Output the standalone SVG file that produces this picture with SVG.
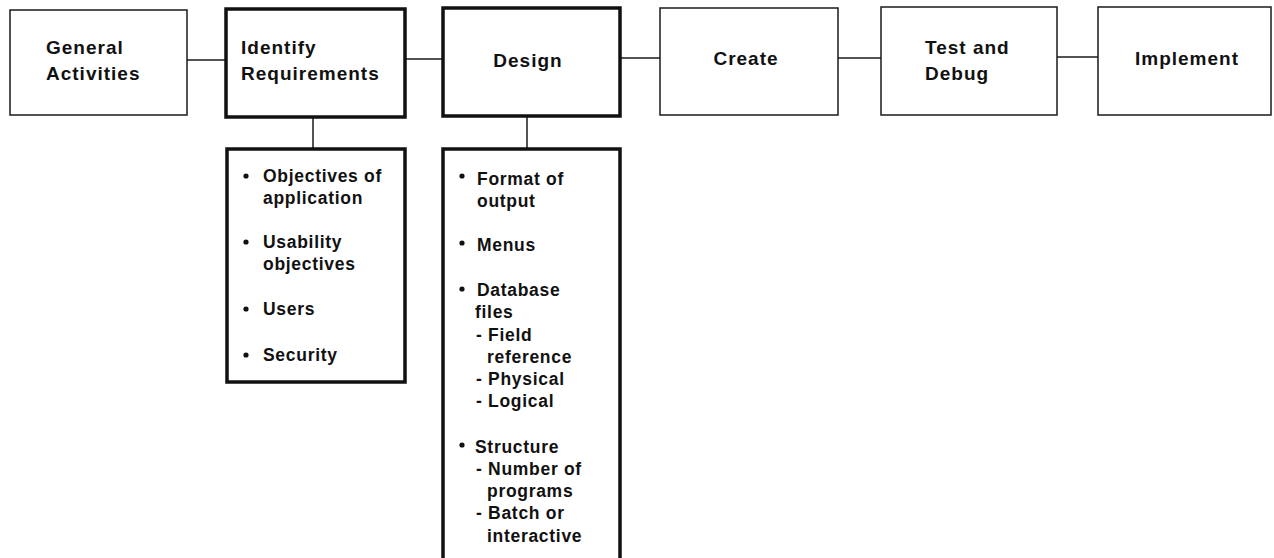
<svg xmlns="http://www.w3.org/2000/svg" width="1274" height="558" viewBox="0 0 1274 558">
  <style>
    .box { fill: #ffffff; stroke: #1a1a1a; stroke-width: 1.5; }
    .key { fill: #ffffff; stroke: #111111; stroke-width: 3.5; }
    .link { stroke: #1a1a1a; stroke-width: 1.5; fill: none; }
    .hd { font-family: "Liberation Sans", Arial, sans-serif; font-size: 19px; font-weight: bold; letter-spacing: 1px; fill: #111111; }
    .li { font-family: "Liberation Sans", Arial, sans-serif; font-size: 17.5px; font-weight: bold; letter-spacing: 0.7px; fill: #111111; }
    .dot { fill: #111111; }
  </style>
  <rect width="1274" height="558" fill="#ffffff"/>

  <!-- connectors between phases and to the detail lists -->
  <g id="connectors">
    <line class="link" x1="187" y1="60" x2="226" y2="60"/>
    <line class="link" x1="405" y1="59" x2="443" y2="59"/>
    <line class="link" x1="620" y1="58" x2="660" y2="58"/>
    <line class="link" x1="838" y1="58" x2="881" y2="58"/>
    <line class="link" x1="1057" y1="57" x2="1098" y2="57"/>
    <line class="link" x1="313" y1="117" x2="313" y2="149"/>
    <line class="link" x1="527" y1="116" x2="527" y2="149"/>
  </g>

  <g id="general-activities">
    <rect class="box" x="10" y="10" width="177" height="105"/>
    <text class="hd" x="46" y="54">General</text>
    <text class="hd" x="46" y="80">Activities</text>
  </g>

  <g id="identify-requirements">
    <rect class="key" x="226" y="9" width="179" height="108"/>
    <text class="hd" x="241" y="54">Identify</text>
    <text class="hd" x="241" y="80">Requirements</text>
  </g>

  <g id="design">
    <rect class="key" x="443" y="8" width="177" height="108"/>
    <text class="hd" x="528" y="67" text-anchor="middle">Design</text>
  </g>

  <g id="create">
    <rect class="box" x="660" y="8" width="178" height="107"/>
    <text class="hd" x="746" y="65" text-anchor="middle">Create</text>
  </g>

  <g id="test-and-debug">
    <rect class="box" x="881" y="7" width="176" height="108"/>
    <text class="hd" x="925" y="54">Test and</text>
    <text class="hd" x="925" y="80">Debug</text>
  </g>

  <g id="implement">
    <rect class="box" x="1098" y="7" width="173" height="108"/>
    <text class="hd" x="1187" y="65" text-anchor="middle">Implement</text>
  </g>

  <g id="requirements-list">
    <rect class="key" x="227" y="149" width="178" height="233"/>
    <circle class="dot" cx="246" cy="176" r="2.6"/>
    <text class="li" x="263" y="182">Objectives of</text>
    <text class="li" x="263" y="204">application</text>
    <circle class="dot" cx="246" cy="242" r="2.6"/>
    <text class="li" x="263" y="248">Usability</text>
    <text class="li" x="263" y="270">objectives</text>
    <circle class="dot" cx="246" cy="309" r="2.6"/>
    <text class="li" x="263" y="315">Users</text>
    <circle class="dot" cx="246" cy="355" r="2.6"/>
    <text class="li" x="263" y="361">Security</text>
  </g>

  <g id="design-list">
    <rect class="key" x="443" y="149" width="177" height="420"/>
    <circle class="dot" cx="462" cy="176" r="2.6"/>
    <text class="li" x="477" y="185">Format of</text>
    <text class="li" x="477" y="207">output</text>
    <circle class="dot" cx="462" cy="243" r="2.6"/>
    <text class="li" x="477" y="251">Menus</text>
    <circle class="dot" cx="462" cy="289" r="2.6"/>
    <text class="li" x="477" y="296">Database</text>
    <text class="li" x="475" y="318">files</text>
    <text class="li" x="476" y="341">- Field</text>
    <text class="li" x="487" y="363">reference</text>
    <text class="li" x="476" y="385">- Physical</text>
    <text class="li" x="476" y="407">- Logical</text>
    <circle class="dot" cx="462" cy="445" r="2.6"/>
    <text class="li" x="475" y="453">Structure</text>
    <text class="li" x="476" y="475">- Number of</text>
    <text class="li" x="487" y="497">programs</text>
    <text class="li" x="476" y="519">- Batch or</text>
    <text class="li" x="487" y="542">interactive</text>
  </g>
</svg>
